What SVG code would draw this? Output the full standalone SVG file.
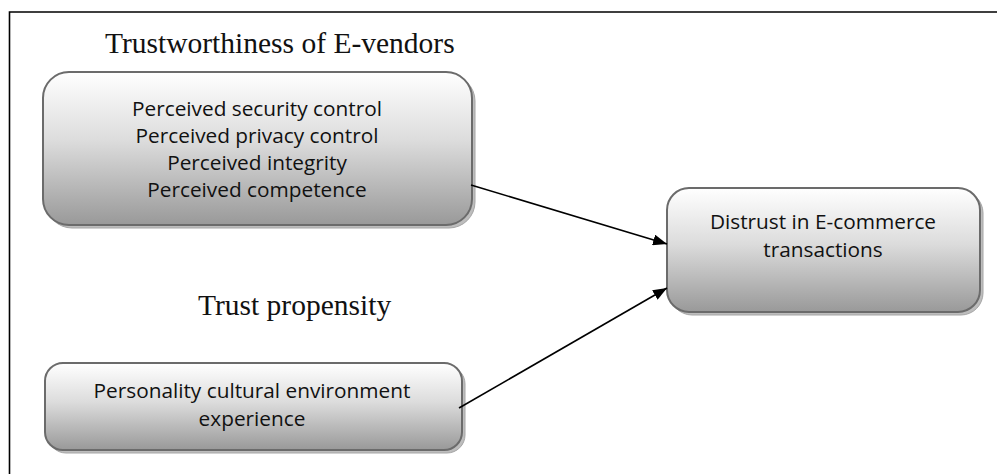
<svg xmlns="http://www.w3.org/2000/svg" width="997" height="474" viewBox="0 0 997 474">
<defs>
<linearGradient id="g" x1="0" y1="0" x2="0" y2="1">
<stop offset="0" stop-color="#ffffff"/>
<stop offset="0.45" stop-color="#dcdcdc"/>
<stop offset="1" stop-color="#999999"/>
</linearGradient>
<marker id="arr" viewBox="0 0 14 11" refX="14" refY="5.5" markerWidth="14" markerHeight="11" markerUnits="userSpaceOnUse" orient="auto">
<path d="M0,0 L14,5.5 L0,11 z" fill="#000"/>
</marker>
</defs>
<style>
.box{fill:url(#g);stroke:#6b6b6b;stroke-width:2}
.sh{fill:#bdbdbd;stroke:#a6a6a6;stroke-width:1}
.t{font-family:"Open Sans","Liberation Sans",sans-serif;font-size:20.8px;fill:#111;text-anchor:middle}
.h{font-family:"Liberation Serif",serif;font-size:29.5px;fill:#111}
.c{stroke:#000;stroke-width:1.6;fill:none;marker-end:url(#arr)}
</style>
<rect width="997" height="474" fill="#fff"/>
<path d="M9.5,474 L9.5,12 L997,12" fill="none" stroke="#000" stroke-width="1.6"/>
<text class="h" x="105" y="53">Trustworthiness of E-vendors</text>
<text class="h" x="198" y="315">Trust propensity</text>
<g id="node-trustworthiness">
<rect class="sh" x="46" y="75" width="429" height="153" rx="26"/>
<rect class="box" x="43" y="72" width="429" height="153" rx="26"/>
<text class="t" x="257" y="116">Perceived security control</text>
<text class="t" x="257" y="143">Perceived privacy control</text>
<text class="t" x="257" y="170">Perceived integrity</text>
<text class="t" x="257" y="197">Perceived competence</text>
</g>
<g id="node-propensity">
<rect class="sh" x="48" y="366" width="417" height="87" rx="18"/>
<rect class="box" x="45" y="363" width="417" height="87" rx="18"/>
<text class="t" x="252" y="398">Personality cultural environment</text>
<text class="t" x="252" y="426">experience</text>
</g>
<g id="node-distrust">
<rect class="sh" x="670" y="191" width="313" height="124" rx="22"/>
<rect class="box" x="667" y="188" width="313" height="124" rx="22"/>
<text class="t" x="823" y="229">Distrust in E-commerce</text>
<text class="t" x="823" y="257">transactions</text>
</g>
<g id="connectors">
<line class="c" x1="471" y1="185" x2="667" y2="244"/>
<line class="c" x1="459" y1="408" x2="667" y2="288"/>
</g>
</svg>
